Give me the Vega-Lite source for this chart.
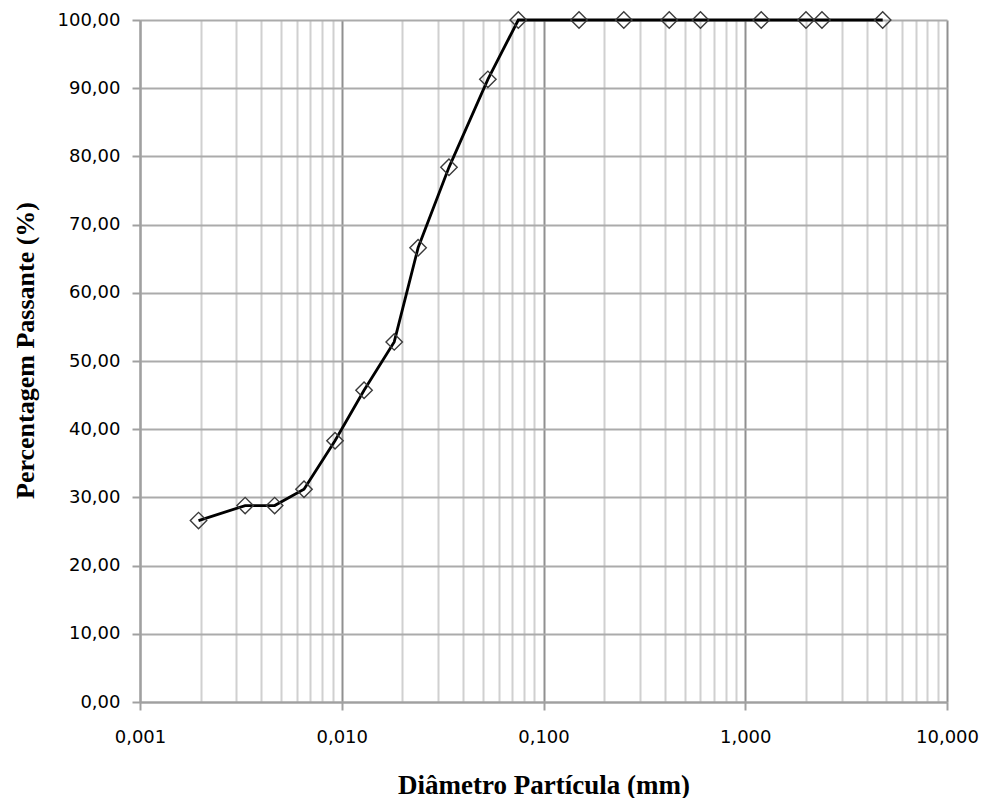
{
  "$schema": "https://vega.github.io/schema/vega-lite/v6.json",
  "width": 807,
  "height": 682,
  "autosize": {"type": "none"},
  "padding": {"left": 140, "top": 20, "right": 37, "bottom": 96},
  "background": "white",
  "config": {"view": {"stroke": null}},
  "data": {
    "values": [
      {"d": 0.00195, "p": 26.6},
      {"d": 0.00332, "p": 28.8},
      {"d": 0.00465, "p": 28.8},
      {"d": 0.0065, "p": 31.2},
      {"d": 0.00926, "p": 38.3},
      {"d": 0.0129, "p": 45.7},
      {"d": 0.0182, "p": 52.8},
      {"d": 0.0239, "p": 66.6},
      {"d": 0.034, "p": 78.4},
      {"d": 0.053, "p": 91.3},
      {"d": 0.075, "p": 100},
      {"d": 0.15, "p": 100},
      {"d": 0.25, "p": 100},
      {"d": 0.42, "p": 100},
      {"d": 0.6, "p": 100},
      {"d": 1.2, "p": 100},
      {"d": 2.0, "p": 100},
      {"d": 2.4, "p": 100},
      {"d": 4.8, "p": 100}
    ]
  },
  "encoding": {
    "x": {
      "field": "d",
      "type": "quantitative",
      "scale": {"type": "log", "domain": [0.001, 10], "nice": false},
      "axis": {
        "title": "Diâmetro Partícula (mm)",
        "titleFont": "Liberation Serif",
        "titleFontWeight": "bold",
        "titleFontSize": 27,
        "titleColor": "#000000",
        "titleBaseline": "alphabetic",
        "titleY": 91,
        "labelFont": "DejaVu Sans",
        "labelFontSize": 18,
        "labelColor": "#000000",
        "labelPadding": 18,
        "labelOverlap": false,
        "labelFlush": false,
        "labelBound": false,
        "tickSize": 8,
        "tickWidth": 2,
        "tickColor": "#a0a0a0",
        "tickOpacity": {"condition": {"test": "abs(log(datum.value)/LN10 - round(log(datum.value)/LN10)) < 0.001", "value": 1}, "value": 0},
        "domainColor": "#a0a0a0",
        "domainWidth": 2,
        "grid": true,
        "gridWidth": 2,
        "gridColor": {"condition": {"test": "abs(log(datum.value)/LN10 - round(log(datum.value)/LN10)) < 0.001", "value": "#909090"}, "value": "#d0d0d0"},
        "gridOpacity": 1,
        "values": [0.001, 0.002, 0.003, 0.004, 0.005, 0.006, 0.007, 0.008, 0.009,
                   0.01, 0.02, 0.03, 0.04, 0.05, 0.06, 0.07, 0.08, 0.09,
                   0.1, 0.2, 0.3, 0.4, 0.5, 0.6, 0.7, 0.8, 0.9,
                   1, 2, 3, 4, 5, 6, 7, 8, 9, 10],
        "labelExpr": "abs(log(datum.value)/LN10 - round(log(datum.value)/LN10)) < 0.001 ? replace(format(datum.value, '.3f'), '.', ',') : ''"
      }
    },
    "y": {
      "field": "p",
      "type": "quantitative",
      "scale": {"domain": [0, 100], "nice": false},
      "axis": {
        "title": "Percentagem Passante (%)",
        "titleFont": "Liberation Serif",
        "titleFontWeight": "bold",
        "titleFontSize": 26,
        "titleColor": "#000000",
        "titleBaseline": "alphabetic",
        "titleX": -107,
        "titleY": 330,
        "labelFont": "DejaVu Sans",
        "labelFontSize": 18,
        "labelColor": "#000000",
        "labelPadding": 12,
        "tickSize": 8,
        "tickWidth": 2,
        "tickColor": "#a0a0a0",
        "domainColor": "#a0a0a0",
        "domainWidth": 2,
        "grid": true,
        "gridWidth": 2,
        "gridColor": "#ababab",
        "gridOpacity": 1,
        "values": [0, 10, 20, 30, 40, 50, 60, 70, 80, 90, 100],
        "labelExpr": "replace(format(datum.value, '.2f'), '.', ',')"
      }
    }
  },
  "layer": [
    {"mark": {"type": "line", "color": "#000000", "strokeWidth": 2.8, "clip": false}},
    {"mark": {"type": "point", "shape": "diamond", "size": 270, "filled": false, "stroke": "#3a3a3a", "strokeWidth": 1.4, "opacity": 1, "clip": false}}
  ]
}
